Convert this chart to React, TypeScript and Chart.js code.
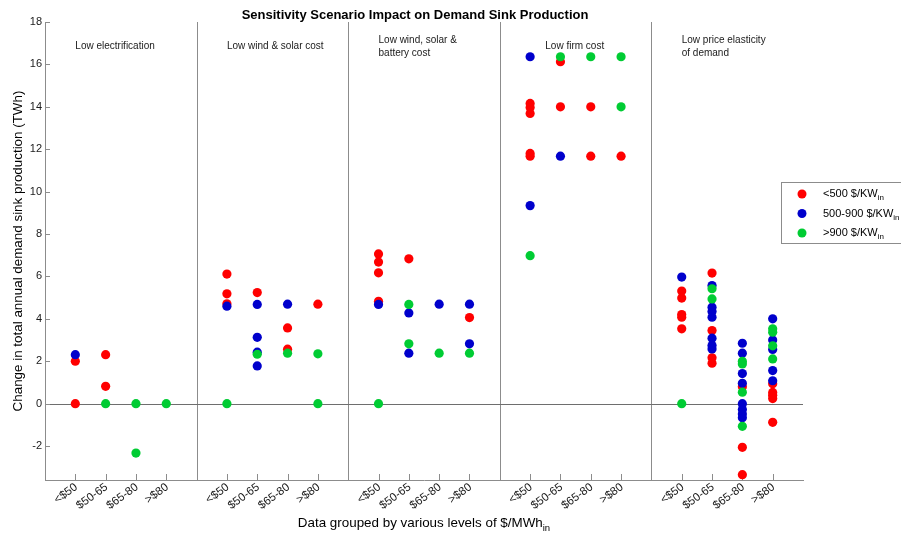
import React, { useEffect, useRef } from "react";
import { Chart, registerables } from "chart.js";
Chart.register(...registerables);

const chartTitle = "Sensitivity Scenario Impact on Demand Sink Production";
const yAxisTitle = "Change in total annual demand sink production (TWh)";
const xAxisTitle = "Data grouped by various levels of $/MWh";
const xAxisTitleSub = "in";

const groupLabels: string[][] = [
  ["Low electrification"],
  ["Low wind & solar cost"],
  ["Low wind, solar &", "battery cost"],
  ["Low firm cost"],
  ["Low price elasticity", "of demand"],
];
const priceBins = ["<$50", "$50-65", "$65-80", ">$80"];
const yTicks = [-2, 0, 2, 4, 6, 8, 10, 12, 14, 16, 18];
const seriesNames = ["<500 $/KW", "500-900 $/KW", ">900 $/KW"];
const seriesSub = "in";

// values[group][priceBin] = list of values (TWh)
const redValues: number[][][] = [
  [[2.0, 0], [2.31, 0.82], [], []],
  [[6.11, 5.18, 4.71], [5.24], [3.57, 2.57], [4.69]],
  [[7.06, 6.68, 6.17, 4.83], [6.83], [], [4.06]],
  [[14.16, 13.97, 13.69, 11.8, 11.67], [16.13, 14.0], [14.0, 11.67], [11.67]],
  [[5.31, 4.98, 4.2, 4.08, 3.53], [6.16, 3.45, 2.16, 1.91], [0.8, -2.06, -3.35], [0.94, 0.53, 0.4, 0.24, -0.88]],
];
const blueValues: number[][][] = [
  [[2.31], [], [], []],
  [[4.6], [4.68, 3.13, 2.43, 1.78], [4.69], []],
  [[4.68], [4.28, 2.38], [4.69], [4.69, 2.82]],
  [[16.36, 9.34], [11.67], [], []],
  [[5.97], [5.57, 4.55, 4.35, 4.08, 3.09, 2.74, 2.58], [2.85, 2.38, 1.42, 0.96, 0, -0.28, -0.49, -0.66], [4.0, 3.0, 2.56, 1.56, 1.08]],
];
const greenValues: number[][][] = [
  [[], [0], [0, -2.33], [0]],
  [[0], [2.33], [2.38], [2.35, 0]],
  [[0], [4.68, 2.82], [2.38], [2.38]],
  [[6.98], [16.36], [16.36], [16.36, 14.0]],
  [[0], [5.42, 4.94], [2.0, 1.87, 0.54, -1.07], [3.53, 3.37, 2.73, 2.11]],
];

const COLORS = ["rgb(255,0,0)", "rgb(0,0,204)", "rgb(0,204,51)"];
const FONT = "Arial, 'Liberation Sans', Helvetica, sans-serif";
const GROUP_SIZE = priceBins.length + 1;

function toPoints(values: number[][][]) {
  const pts: { x: number; y: number }[] = [];
  values.forEach((grp, gi) =>
    grp.forEach((bin, bi) => bin.forEach((v) => pts.push({ x: gi * GROUP_SIZE + bi + 1, y: v })))
  );
  return pts;
}

const xTickValues: number[] = [];
groupLabels.forEach((_, gi) => priceBins.forEach((_, bi) => xTickValues.push(gi * GROUP_SIZE + bi + 1)));
const dividerValues = groupLabels.slice(1).map((_, i) => (i + 1) * GROUP_SIZE);
// label anchor (left x in data units, y in data units)
const groupLabelX = [1, 6, 11, 16.5, 21];
const groupLabelY = [16.86, 16.86, 17.15, 16.86, 17.15];

const overlayPlugin = {
  id: "overlay",
  beforeDatasetsDraw(chart: any) {
    const { ctx, chartArea } = chart;
    const xs = chart.scales.x;
    const ys = chart.scales.y;
    ctx.save();
    ctx.strokeStyle = "#8c8c8c";
    ctx.lineWidth = 1;
    dividerValues.forEach((v) => {
      const px = Math.round(xs.getPixelForValue(v)) + 0.5;
      ctx.beginPath();
      ctx.moveTo(px, chartArea.top);
      ctx.lineTo(px, chartArea.bottom);
      ctx.stroke();
    });
    const y0 = Math.round(ys.getPixelForValue(0)) + 0.5;
    ctx.strokeStyle = "#6e6e6e";
    ctx.beginPath();
    ctx.moveTo(chartArea.left, y0);
    ctx.lineTo(chartArea.right, y0);
    ctx.stroke();
    ctx.strokeStyle = "#8c8c8c";
    ys.ticks.forEach((t: any) => {
      const py = Math.round(ys.getPixelForValue(t.value)) + 0.5;
      ctx.beginPath();
      ctx.moveTo(chartArea.left, py);
      ctx.lineTo(chartArea.left + 5, py);
      ctx.stroke();
    });
    xs.ticks.forEach((t: any) => {
      const px = Math.round(xs.getPixelForValue(t.value)) + 0.5;
      ctx.beginPath();
      ctx.moveTo(px, chartArea.bottom);
      ctx.lineTo(px, chartArea.bottom - 6);
      ctx.stroke();
    });
    ctx.restore();
  },
  afterDraw(chart: any) {
    const { ctx, chartArea } = chart;
    const xs = chart.scales.x;
    const ys = chart.scales.y;
    const midX = (chartArea.left + chartArea.right) / 2;
    ctx.save();
    ctx.fillStyle = "#000";
    // title
    ctx.font = `bold 13px ${FONT}`;
    ctx.textAlign = "center";
    ctx.textBaseline = "middle";
    ctx.fillText(chartTitle, midX - 9, 15);
    // x tick labels (rotated)
    ctx.font = `11.5px ${FONT}`;
    ctx.fillStyle = "#1a1a1a";
    const ang = (36 * Math.PI) / 180;
    xs.ticks.forEach((t: any) => {
      const px = xs.getPixelForValue(t.value);
      const label = priceBins[(Math.round(t.value) % GROUP_SIZE) - 1] ?? "";
      ctx.save();
      ctx.translate(px + 1, chartArea.bottom + 6);
      ctx.rotate(-ang);
      ctx.textAlign = "right";
      ctx.textBaseline = "middle";
      ctx.fillText(label, 0, 0);
      ctx.restore();
    });
    // group labels
    ctx.font = `10px ${FONT}`;
    ctx.fillStyle = "#1a1a1a";
    ctx.textAlign = "left";
    ctx.textBaseline = "middle";
    groupLabels.forEach((lines, gi) => {
      const px = xs.getPixelForValue(groupLabelX[gi]);
      const py = ys.getPixelForValue(groupLabelY[gi]);
      lines.forEach((ln, li) => ctx.fillText(ln, px, py + li * 13));
    });
    // y title
    ctx.font = `13.4px ${FONT}`;
    ctx.fillStyle = "#000";
    ctx.save();
    ctx.translate(18, (chartArea.top + chartArea.bottom) / 2);
    ctx.rotate(-Math.PI / 2);
    ctx.textAlign = "center";
    ctx.textBaseline = "middle";
    ctx.fillText(yAxisTitle, 0, 0);
    ctx.restore();
    // x title with subscript
    ctx.font = `13.4px ${FONT}`;
    const w1 = ctx.measureText(xAxisTitle).width;
    ctx.font = `9.5px ${FONT}`;
    const w2 = ctx.measureText(xAxisTitleSub).width;
    const sx = midX - (w1 + w2) / 2;
    ctx.textAlign = "left";
    ctx.textBaseline = "alphabetic";
    ctx.font = `13.4px ${FONT}`;
    ctx.fillText(xAxisTitle, sx, 527);
    ctx.font = `9.5px ${FONT}`;
    ctx.fillText(xAxisTitleSub, sx + w1, 531);
    // legend
    const lx = 781.5, ly = 182.5, lw = 130, lh = 61;
    ctx.fillStyle = "#fff";
    ctx.fillRect(lx, ly, lw, lh);
    ctx.strokeStyle = "#8c8c8c";
    ctx.lineWidth = 1;
    ctx.strokeRect(lx, ly, lw, lh);
    seriesNames.forEach((name, i) => {
      const my = 194 + i * 19.5;
      ctx.fillStyle = COLORS[i];
      ctx.beginPath();
      ctx.arc(802, my, 4.5, 0, Math.PI * 2);
      ctx.fill();
      ctx.fillStyle = "#000";
      ctx.font = `11px ${FONT}`;
      ctx.textBaseline = "middle";
      ctx.fillText(name, 823, my);
      const nw = ctx.measureText(name).width;
      ctx.font = `8px ${FONT}`;
      ctx.fillText(seriesSub, 823 + nw, my + 4);
    });
    ctx.restore();
  },
};

export default function App() {
  const ref = useRef<HTMLCanvasElement>(null);
  useEffect(() => {
    document.body.style.margin = "0";
    const canvas = ref.current!;
    const mk = (vals: number[][][], i: number) => ({
      label: seriesNames[i],
      data: toPoints(vals),
      backgroundColor: COLORS[i],
      borderWidth: 0,
      pointRadius: 4.6,
      pointHoverRadius: 4.6,
      order: 3 - i,
    });
    const chart = new Chart(canvas, {
      type: "scatter",
      data: { datasets: [mk(redValues, 0), mk(blueValues, 1), mk(greenValues, 2)] },
      options: {
        animation: false,
        responsive: false,
        layout: { padding: { top: 22, right: 98, left: 0, bottom: 0 } },
        plugins: { legend: { display: false }, tooltip: { enabled: false }, title: { display: false } },
        scales: {
          x: {
            type: "linear",
            min: 0,
            max: groupLabels.length * GROUP_SIZE,
            afterBuildTicks: (s: any) => {
              s.ticks = xTickValues.map((v) => ({ value: v }));
            },
            afterFit: (s: any) => {
              s.height = 54;
            },
            grid: { display: false, drawTicks: false },
            border: { display: true, color: "#8c8c8c" },
            ticks: { display: false },
          },
          y: {
            min: -3.6,
            max: 18,
            afterBuildTicks: (s: any) => {
              s.ticks = yTicks.map((v) => ({ value: v }));
            },
            afterFit: (s: any) => {
              s.width = 45;
            },
            grid: { display: false, drawTicks: false },
            border: { display: true, color: "#8c8c8c" },
            ticks: {
              padding: 3,
              color: "#1a1a1a",
              font: { size: 11, family: FONT },
            },
          },
        },
      },
      plugins: [overlayPlugin],
    });
    return () => chart.destroy();
  }, []);
  return (
    <div style={{ width: 901, height: 534 }}>
      <canvas ref={ref} width={901} height={534} style={{ display: "block" }} />
    </div>
  );
}
